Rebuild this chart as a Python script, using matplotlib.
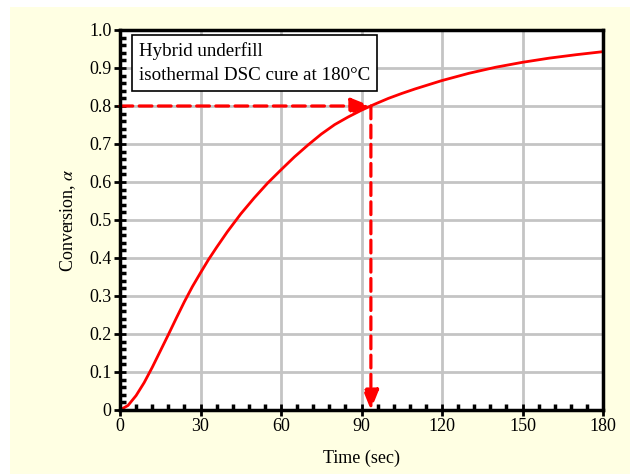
import matplotlib
matplotlib.use("Agg")
import matplotlib.pyplot as plt
from matplotlib.patches import Rectangle
from matplotlib.ticker import MultipleLocator, FuncFormatter

# values
time_sec = [0, 3, 6, 9, 12, 15, 18, 21, 24, 27, 30, 33, 36, 40, 45, 50, 55, 60, 65, 70,
            75, 80, 85, 90, 95, 100, 105, 110, 115, 120, 130, 140, 150, 160, 170, 180]
conversion = [0, 0.012, 0.038, 0.072, 0.112, 0.155, 0.198, 0.242, 0.285, 0.325, 0.361,
              0.396, 0.428, 0.469, 0.516, 0.558, 0.597, 0.632, 0.666, 0.697, 0.726, 0.751,
              0.771, 0.789, 0.805, 0.82, 0.833, 0.845, 0.856, 0.867, 0.886, 0.902, 0.915,
              0.926, 0.935, 0.943]
target_alpha = 0.8
target_time = 93.5
x_ticks = [0, 30, 60, 90, 120, 150, 180]
y_ticks = [0, 0.1, 0.2, 0.3, 0.4, 0.5, 0.6, 0.7, 0.8, 0.9, 1.0]
note = "Hybrid underfill\nisothermal DSC cure at 180°C"

plt.rcParams["font.family"] = ["Liberation Serif", "DejaVu Serif"]
plt.rcParams["mathtext.fontset"] = "stix"

fig = plt.figure(figsize=(6.3, 4.74), dpi=100, facecolor="white")
fig.patches.append(Rectangle((10 / 630, 0), 1, 1 - 7 / 474, transform=fig.transFigure,
                             facecolor="#FFFFE3", edgecolor="none", zorder=-10))
ax = fig.add_axes([120 / 630, 1 - 410 / 474, 483 / 630, 380 / 474])
ax.set_facecolor("white")

ax.plot(time_sec, conversion, color="red", lw=2, zorder=3)

# dashed guide arrows
arrow_style = dict(arrowstyle="-|>,head_length=1.2,head_width=0.48", color="red",
                   lw=2.3, linestyle=(0, (4, 2)), shrinkA=0, shrinkB=0)
ax.annotate("", xy=(target_time, target_alpha), xytext=(0, target_alpha),
            arrowprops=arrow_style, zorder=4)
ax.annotate("", xy=(target_time, 0), xytext=(target_time, target_alpha),
            arrowprops=arrow_style, zorder=4)

ax.set_xlim(0, 180)
ax.set_ylim(0, 1.0)
ax.set_xticks(x_ticks)
ax.set_yticks(y_ticks)
ax.xaxis.set_minor_locator(MultipleLocator(6))
ax.yaxis.set_minor_locator(MultipleLocator(0.02))
ax.yaxis.set_major_formatter(FuncFormatter(lambda v, p: "0" if v == 0 else f"{v:.1f}"))
ax.tick_params(which="major", direction="inout", length=8, width=2, labelsize=13,
               pad=2, color="black")
ax.tick_params(which="minor", direction="in", length=4, width=2.5, color="black")
ax.tick_params(top=False, right=False, which="both")

ax.grid(True, which="major", color="#C4C4C4", lw=2)
ax.set_axisbelow(True)
for s in ax.spines.values():
    s.set_linewidth(2.5)
    s.set_color("black")
    s.set_zorder(5)

ax.set_xlabel("Time (sec)", fontsize=13, labelpad=10)
ax.set_ylabel("Conversion, $\\alpha$", fontsize=13, labelpad=8)

ax.text(0.039, 0.967, note, transform=ax.transAxes, fontsize=13.7, va="top", ha="left",
        linespacing=1.5, zorder=6,
        bbox=dict(boxstyle="square,pad=0.38", facecolor="white", edgecolor="black", lw=1.2))

fig.savefig("out.png", dpi=100, facecolor=fig.get_facecolor())
